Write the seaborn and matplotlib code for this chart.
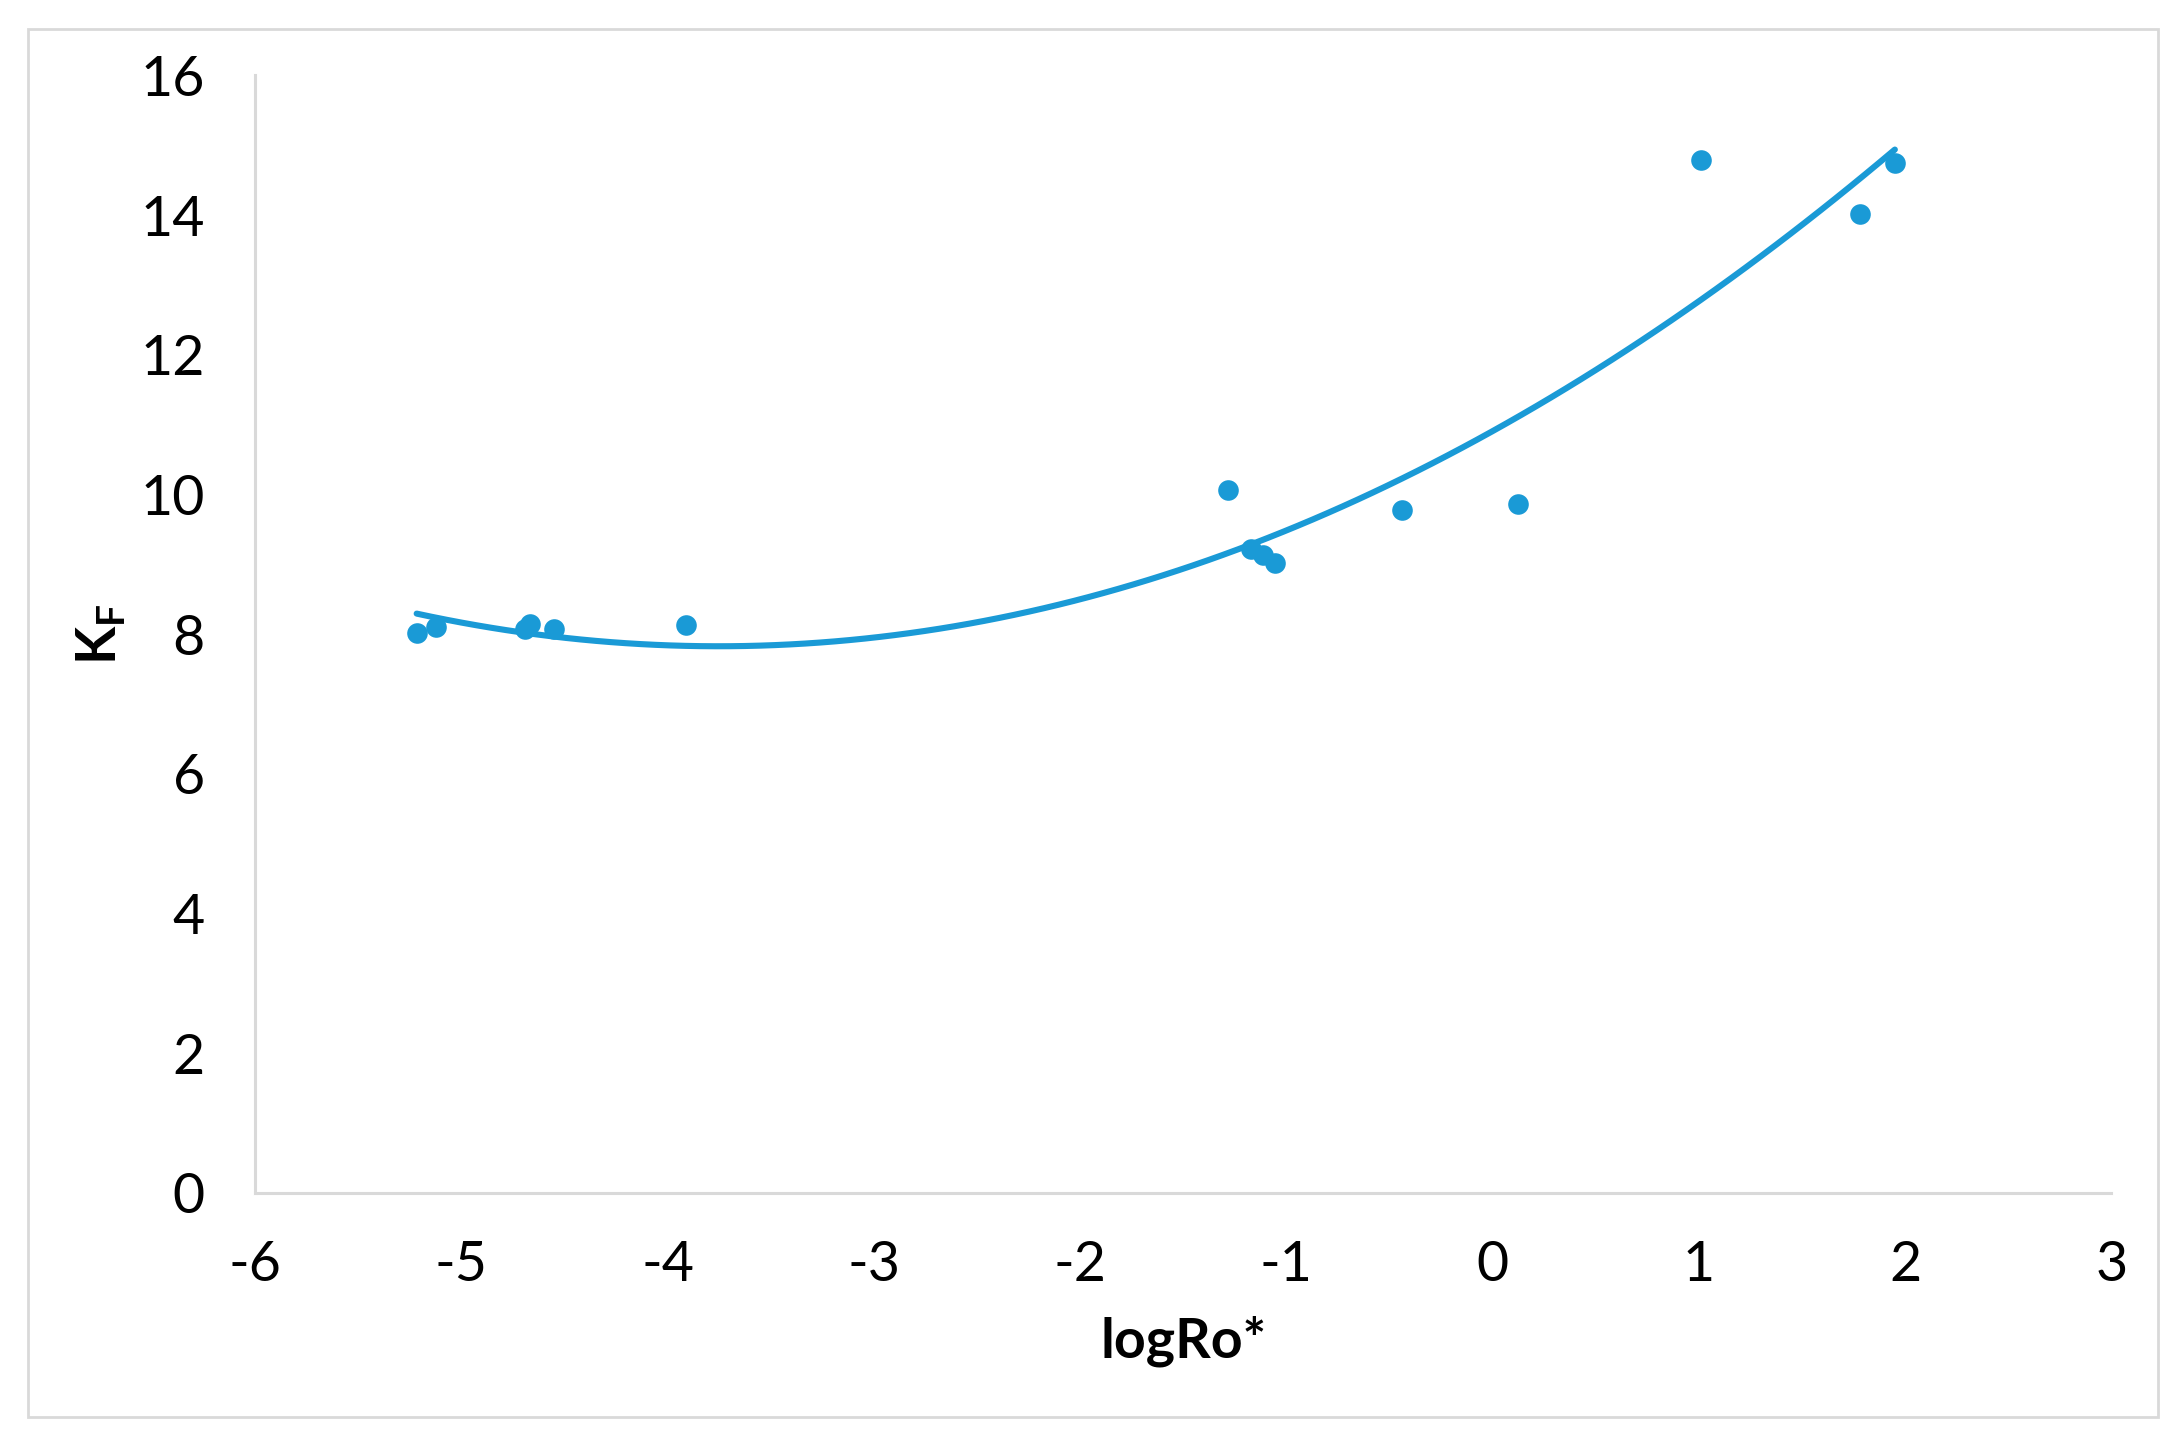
import matplotlib
matplotlib.use("Agg")
import matplotlib.pyplot as plt
import seaborn as sns
import pandas as pd
from matplotlib.patches import Rectangle

log_ro = [-5.216, -5.123, -4.691, -4.667, -4.551, -3.908,
          -1.282, -1.169, -1.112, -1.056, -0.437, 0.124,
          1.012, 1.783, 1.950]
kf = [8.01, 8.10, 8.08, 8.14, 8.07, 8.13,
      10.06, 9.22, 9.13, 9.02, 9.78, 9.87,
      14.79, 14.02, 14.75]
x_ticks = [-6, -5, -4, -3, -2, -1, 0, 1, 2, 3]
y_ticks = [0, 2, 4, 6, 8, 10, 12, 14, 16]

blue = "#1A9AD6"
grey = "#D9D9D9"

df = pd.DataFrame({"logRo*": log_ro, "KF": kf})

sns.set_style("white")
plt.rcParams["font.family"] = ["Lato", "DejaVu Sans"]
plt.rcParams["axes.unicode_minus"] = False

fig = plt.figure(figsize=(10.895, 7.255), dpi=200)
ax = fig.add_axes([0.117, 0.178, 0.852, 0.770])

# Excel-style 2nd order polynomial trendline
sns.regplot(data=df, x="logRo*", y="KF", order=2, ci=None, ax=ax,
            color=blue,
            scatter_kws={"s": 55, "linewidths": 0, "alpha": 1, "zorder": 3},
            line_kws={"lw": 2.2, "zorder": 2})

ax.set_xlim(-6, 3)
ax.set_ylim(0, 16)
ax.set_xticks(x_ticks)
ax.set_yticks(y_ticks)
ax.tick_params(length=0, labelsize=20, labelcolor="black")
ax.tick_params(axis="y", pad=18)
ax.tick_params(axis="x", pad=17)
for s in ["top", "right"]:
    ax.spines[s].set_visible(False)
for s in ["left", "bottom"]:
    ax.spines[s].set_color(grey)
    ax.spines[s].set_linewidth(1.1)

ax.set_xlabel("logRo*", fontsize=20, fontweight="bold", color="black", labelpad=9)
ax.set_ylabel("K$_\\mathregular{F}$", fontsize=20, fontweight="bold", color="black",
              labelpad=5)

fig.patches.append(Rectangle((28 / 2179, 1 - 1417 / 1451), (2158 - 28) / 2179,
                             (1417 - 29) / 1451, transform=fig.transFigure,
                             fill=False, edgecolor=grey, lw=1.0))

fig.savefig("out.png", dpi=200)
